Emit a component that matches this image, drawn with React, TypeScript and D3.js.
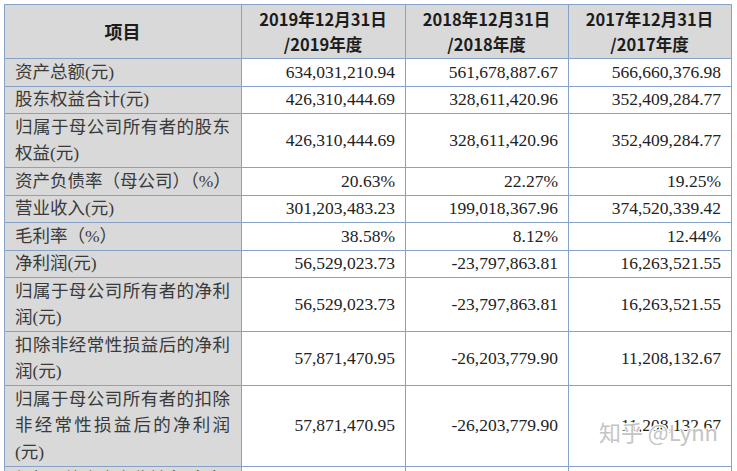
import React from 'react';
import * as d3 from 'd3';

// ---- data ----
const cornerLabel = '项目';
const periodHeaders = [
  ['2019年12月31日', '/2019年度'],
  ['2018年12月31日', '/2018年度'],
  ['2017年12月31日', '/2017年度'],
];
const items = [
  '资产总额(元)',
  '股东权益合计(元)',
  '归属于母公司所有者的股东\n权益(元)',
  '资产负债率（母公司）（%）',
  '营业收入(元)',
  '毛利率（%）',
  '净利润(元)',
  '归属于母公司所有者的净利\n润(元)',
  '扣除非经常性损益后的净利\n润(元)',
  '归属于母公司所有者的扣除\n非经常性损益后的净利润\n(元)',
];
const units = ['yuan', 'yuan', 'yuan', 'pct', 'yuan', 'pct', 'yuan', 'yuan', 'yuan', 'yuan'];
const values2019 = [634031210.94, 426310444.69, 426310444.69, 20.63, 301203483.23, 38.58, 56529023.73, 56529023.73, 57871470.95, 57871470.95];
const values2018 = [561678887.67, 328611420.96, 328611420.96, 22.27, 199018367.96, 8.12, -23797863.81, -23797863.81, -26203779.9, -26203779.9];
const values2017 = [566660376.98, 352409284.77, 352409284.77, 19.25, 374520339.42, 12.44, 16263521.55, 16263521.55, 11208132.67, 11208132.67];
const truncatedItem = '加权平均净资产收益率（%）\n';
const watermark = '知乎 @Lynn';

// ---- layout ----
const W = 737;
const H = 471;
const left = 4;
const top = 4;
const colWidths = [237, 164, 163, 163];
const headerH = 54;
const lineH = 26.5;
const cellPad = 11;
const numPad = 10;
const gridColor = '#86a2c8';
const grayFill = '#d9d9d9';

const locale = d3.formatLocale({ decimal: '.', thousands: ',', grouping: [3], currency: ['', ''], minus: '-' });
const fmtMoney = locale.format(',.2f');
const fmtPct = (v: number) => locale.format('.2f')(v) + '%';

export default function App() {
  const colX = [left, ...Array.from(d3.cumsum(colWidths)).map((w) => left + w)];
  const allItems = [...items, truncatedItem];
  const lines = allItems.map((s) => s.split('\n'));
  const rowHeights = lines.map((l) => 1 + lineH * l.length);
  const rowY = [top + headerH, ...Array.from(d3.cumsum(rowHeights)).map((h) => top + headerH + h)];
  const series = [values2019, values2018, values2017];
  const labelFont = "'Liberation Serif', 'Noto Sans CJK SC', serif";
  const numFont = "'Liberation Serif', 'Times New Roman', serif";
  const headFont = "'Noto Sans CJK SC', sans-serif";
  const bottom = H;

  return (
    <svg width={W} height={H} style={{ position: 'absolute', left: 0, top: 0, background: '#fff' }}>
      <rect x={0} y={0} width={W} height={H} fill="#fff" />
      {/* header background */}
      <rect x={colX[0]} y={top} width={colX[4] - colX[0]} height={headerH} fill={grayFill} />
      {/* first column background */}
      <rect x={colX[0]} y={top + headerH} width={colWidths[0]} height={bottom - top - headerH} fill={grayFill} />

      {/* header text */}
      <text x={(colX[0] + colX[1]) / 2} y={top + headerH / 2} textAnchor="middle" dominantBaseline="central"
        fontFamily={headFont} fontWeight={700} fontSize={18} fill="#1c1c1c">{cornerLabel}</text>
      {periodHeaders.map((h, i) => (
        <g key={i}>
          {h.map((t, j) => (
            <text key={j} x={(colX[i + 1] + colX[i + 2]) / 2} y={top + headerH / 2 + (j - 0.5) * 25}
              textAnchor="middle" dominantBaseline="central" fontFamily={headFont} fontWeight={700}
              fontSize={16.5} fill="#1c1c1c">{t}</text>
          ))}
        </g>
      ))}

      {/* rows */}
      {lines.map((ls, r) => {
        const cy = (rowY[r] + rowY[r + 1]) / 2;
        return (
          <g key={r}>
            {ls.map((t, j) => {
              const y = cy + (j - (ls.length - 1) / 2) * lineH;
              const justify = ls.length > 1 && j < ls.length - 1 && t.length >= 11;
              return (
                <text key={j} x={colX[0] + cellPad} y={y} dominantBaseline="central" fontFamily={labelFont}
                  fontSize={17.5} fill="#3a3a3a"
                  {...(justify ? { textLength: colWidths[0] - 2 * cellPad, lengthAdjust: 'spacing' } : {})}>{t}</text>
              );
            })}
            {r < items.length && series.map((vals, c) => (
              <text key={'v' + c} x={colX[c + 2] - numPad} y={cy} textAnchor="end" dominantBaseline="central"
                fontFamily={numFont} fontSize={17.5} fill="#222">
                {units[r] === 'pct' ? fmtPct(vals[r]) : fmtMoney(vals[r])}
              </text>
            ))}
          </g>
        );
      })}

      {/* grid */}
      <g stroke={gridColor} strokeWidth={1} shapeRendering="crispEdges">
        <line x1={colX[0]} x2={colX[4]} y1={top + 0.5} y2={top + 0.5} />
        {rowY.map((y, i) => (
          <line key={'h' + i} x1={colX[0]} x2={colX[4]} y1={Math.round(y) + 0.5} y2={Math.round(y) + 0.5} />
        ))}
        {colX.map((x, i) => (
          <line key={'v' + i} x1={x + 0.5} x2={x + 0.5} y1={top} y2={bottom} />
        ))}
      </g>

      {/* watermark */}
      <text x={718} y={431} textAnchor="end" dominantBaseline="central" fontFamily={headFont} fontSize={22}
        fill="#c2c2c2" stroke="#ffffff" strokeWidth={2.5} paintOrder="stroke" opacity={0.95}>{watermark}</text>
    </svg>
  );
}
